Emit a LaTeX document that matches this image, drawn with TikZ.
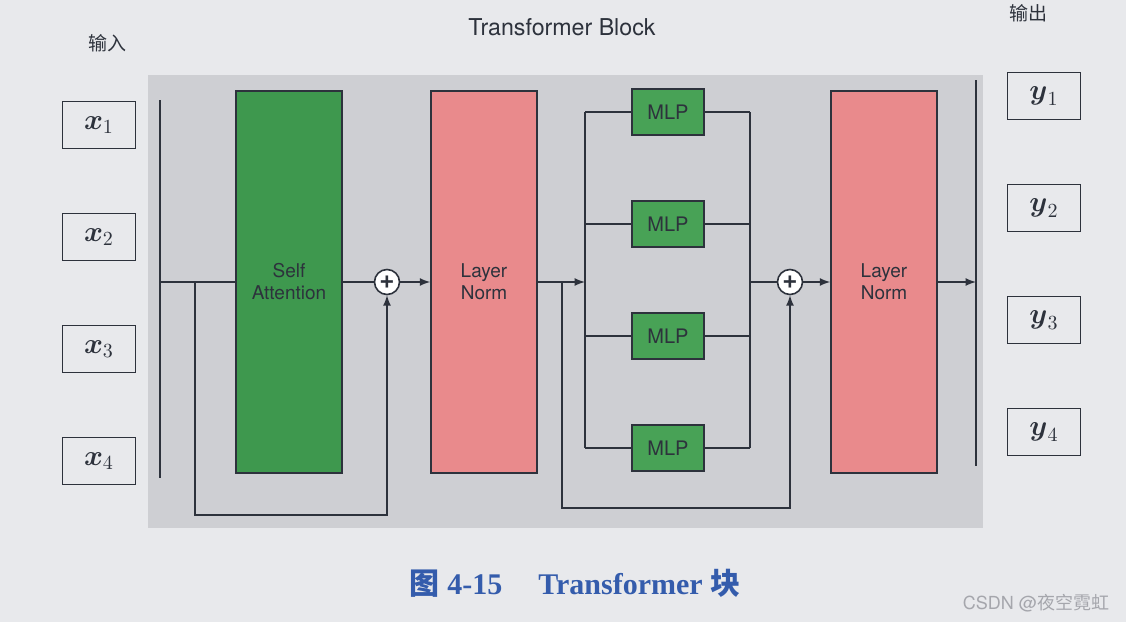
\documentclass[tikz,border=0pt]{standalone}
\usepackage{fontspec}
\usepackage{amsmath}
\setsansfont{TeX Gyre Heros}
\newfontfamily\cjk{Noto Sans CJK SC}
\newfontfamily\capfont{Liberation Serif}
\usetikzlibrary{arrows,positioning}

\definecolor{pagebg}{RGB}{232,233,236}
\definecolor{panelgray}{RGB}{206,207,211}
\definecolor{attngreen}{RGB}{62,152,78}
\definecolor{mlpgreen}{RGB}{72,162,86}
\definecolor{normpink}{RGB}{233,138,140}
\definecolor{linecol}{RGB}{45,50,60}
\definecolor{capblue}{RGB}{52,92,172}
\definecolor{wmgray}{RGB}{165,166,172}

\begin{document}
\begin{tikzpicture}[
    x=0.5pt, y=-0.5pt,
    node distance=56pt,
    thick,
    >=latex,
    color=linecol,
    attn node/.style={rectangle,draw,fill=attngreen,minimum width=53pt,minimum height=191pt,align=center,font=\sffamily\fontsize{9.5}{11}\selectfont},
    norm node/.style={attn node,fill=normpink},
    mlp node/.style={rectangle,draw,fill=mlpgreen,minimum width=36pt,minimum height=23pt,font=\sffamily\fontsize{10}{11}\selectfont},
    io node/.style={rectangle,draw,minimum width=36.5pt,minimum height=23.5pt,font=\fontsize{14.5}{16}\selectfont},
    sum node/.style={circle,draw,fill=white,inner sep=0pt,minimum size=12.5pt,font=\sffamily\bfseries\fontsize{13}{13}\selectfont}
]

% Page and panel
\useasboundingbox (0,0) rectangle (1126,622);
\fill[pagebg] (0,0) rectangle (1126,622);
\fill[panelgray] (148,75) rectangle (983,528);

% Titles
\node[font=\sffamily\fontsize{11.6}{13}\selectfont] (title) at (562,27) {Transformer Block};
\node[font=\cjk\fontsize{9.5}{11}\selectfont] (inlabel) at (107,43) {输入};
\node[font=\cjk\fontsize{9.5}{11}\selectfont] (outlabel) at (1028,13) {输出};

% Inputs
\node[io node] (x1) at (99,125) {$\boldsymbol{x}_1$};
\node[io node, below of=x1] (x2) {$\boldsymbol{x}_2$};
\node[io node, below of=x2] (x3) {$\boldsymbol{x}_3$};
\node[io node, below of=x3] (x4) {$\boldsymbol{x}_4$};

% Outputs
\node[io node] (y1) at (1044,96) {$\boldsymbol{y}_1$};
\node[io node, below of=y1] (y2) {$\boldsymbol{y}_2$};
\node[io node, below of=y2] (y3) {$\boldsymbol{y}_3$};
\node[io node, below of=y3] (y4) {$\boldsymbol{y}_4$};

% Input and output bars
\coordinate (in top) at (160,100);
\coordinate (in bot) at (160,478);
\coordinate (in mid) at (160,282);
\coordinate (out top) at (976,80);
\coordinate (out bot) at (976,466);
\coordinate (out mid) at (976,282);

% Attention stage
\node[attn node] (attn) at (289,282) {Self\\Attention};
\node[sum node] (sum1) at (387,282) {+};
\node[norm node] (norm1) at (484,282) {Layer\\Norm};

% MLP stage
\coordinate (split) at (585,282);
\node[mlp node] (mlp1) at (668,112) {MLP};
\node[mlp node, below of=mlp1] (mlp2) {MLP};
\node[mlp node, below of=mlp2] (mlp3) {MLP};
\node[mlp node, below of=mlp3] (mlp4) {MLP};
\coordinate (merge) at (750,282);
\node[sum node] (sum2) at (790,282) {+};
\node[norm node] (norm2) at (884,282) {Layer\\Norm};

% Residual corners
\coordinate (res1 a) at (195,282);
\coordinate (res1 low) at (195,515);
\coordinate (res2 a) at (562,282);
\coordinate (res2 low) at (562,508);

% Bars
\draw (in top) -- (in bot);
\draw (out top) -- (out bot);
\draw (split |- mlp1) -- (split |- mlp4);
\draw (merge |- mlp1) -- (merge |- mlp4);

% Main path
\draw (in mid) -- (attn.west);
\draw (attn.east) -- (sum1.west);
\draw[->] (sum1.east) -- (norm1.west);
\draw[->] (norm1.east) -- (split);
\draw (merge) -- (sum2.west);
\draw[->] (sum2.east) -- (norm2.west);
\draw[->] (norm2.east) -- (out mid);

% MLP branches
\draw (split |- mlp1) -- (mlp1.west);
\draw (split |- mlp2) -- (mlp2.west);
\draw (split |- mlp3) -- (mlp3.west);
\draw (split |- mlp4) -- (mlp4.west);
\draw (mlp1.east) -- (merge |- mlp1);
\draw (mlp2.east) -- (merge |- mlp2);
\draw (mlp3.east) -- (merge |- mlp3);
\draw (mlp4.east) -- (merge |- mlp4);

% Residuals
\draw[->] (res1 a) -- (res1 low) -| (sum1.south);
\draw[->] (res2 a) -- (res2 low) -| (sum2.south);

% Caption
\node[text=capblue, font=\capfont\bfseries\fontsize{15}{17}\selectfont] (caption) at (575,583) {{\cjk 图} 4-15\hspace{1.2em}Transformer {\cjk 块}};
\node[text=wmgray, font=\sffamily\fontsize{9}{11}\selectfont] (mark) at (1036,603) {CSDN @{\cjk 夜空霓虹}};

\end{tikzpicture}
\end{document}
